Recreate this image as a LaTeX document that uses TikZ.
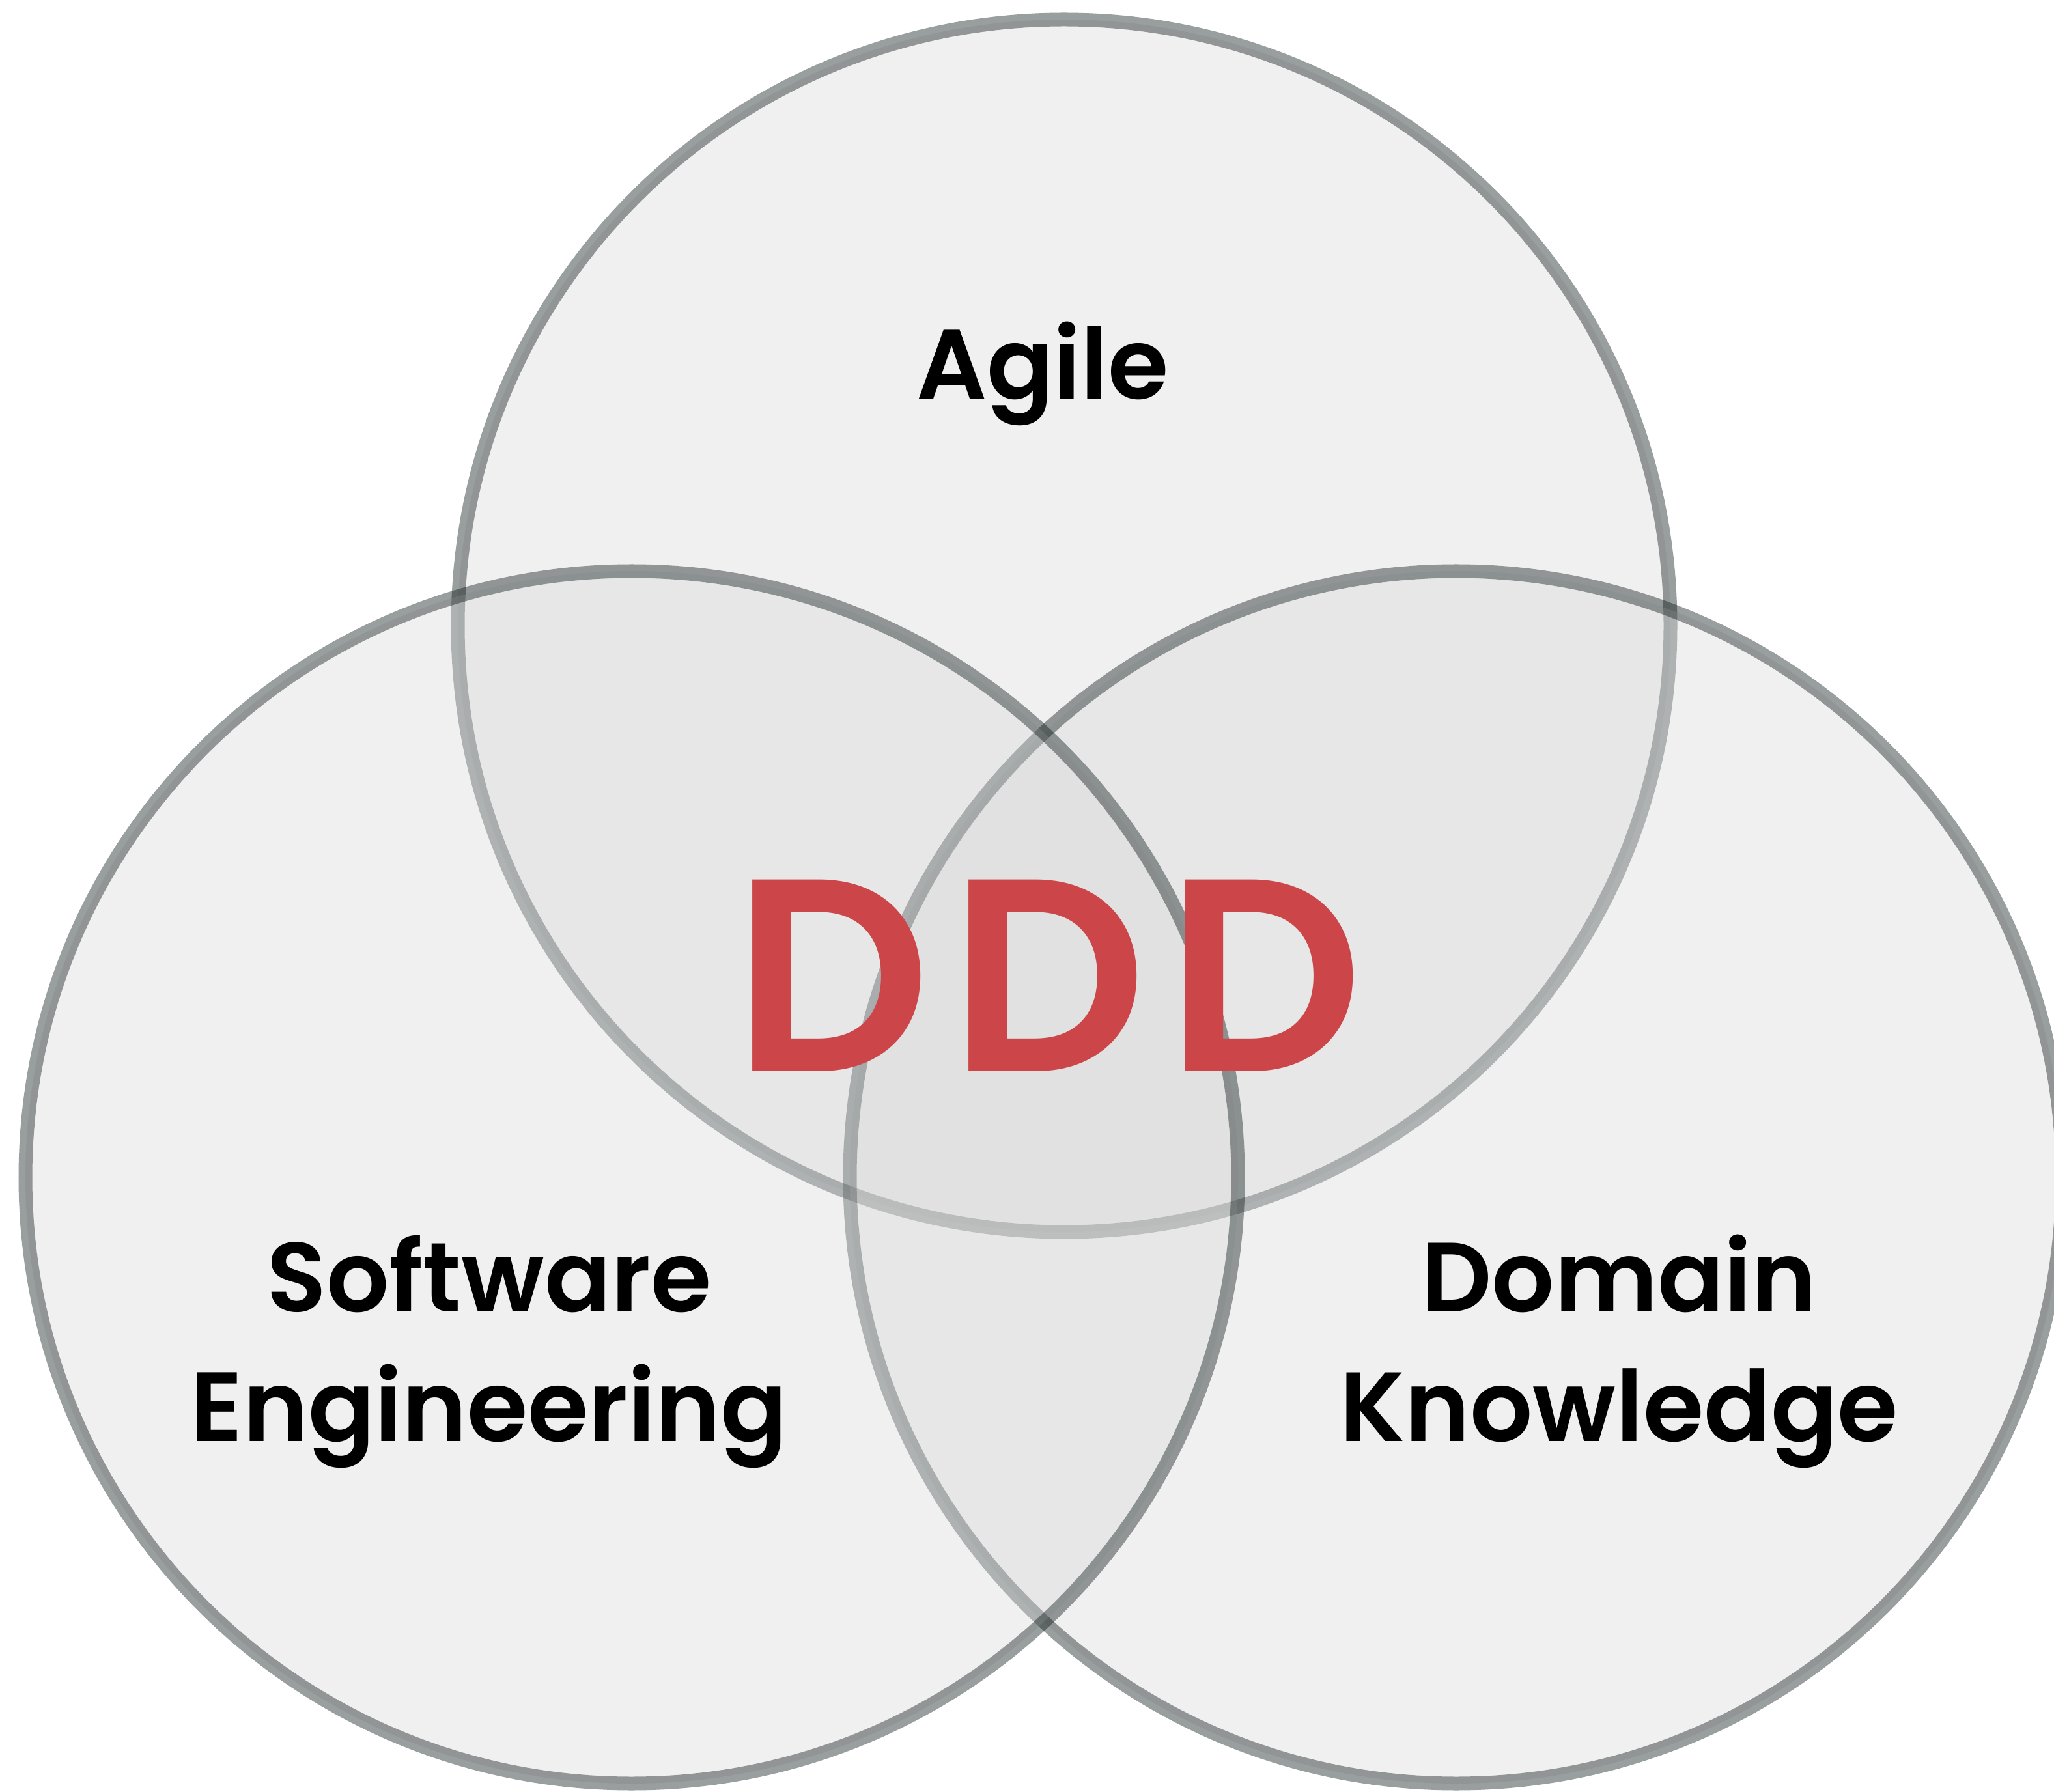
\documentclass[tikz,border=0pt]{standalone}
\usepackage{fontspec}
\setmainfont{Poppins}[BoldFont={* SemiBold}]
\usepackage{tikz}
\usetikzlibrary{positioning}
\definecolor{setfill}{RGB}{216,216,216}
\definecolor{setline}{RGB}{12,22,22}
\definecolor{dddred}{RGB}{204,69,73}

\begin{document}
\begin{tikzpicture}[
    every node/.style={font=\bfseries},
    set/.style={circle, minimum size=18.62cm, inner sep=0pt, fill=setfill, fill opacity=0.36,
                draw=setline, draw opacity=0.415, line width=0.21cm},
    lbl/.style={font=\fontsize{43}{56.4}\selectfont\bfseries, align=center, anchor=base,
                inner sep=0pt, text=black},
    ddd/.style={font=\fontsize{120}{130}\selectfont\bfseries\addfontfeatures{LetterSpace=7},
                anchor=base, inner sep=0pt, text=dddred},
]
    % Page size and margins of the reference.
    \useasboundingbox (0, 0) rectangle (31.54, -27.52);
    \clip (0, 0) rectangle (31.54, -27.52);
    \fill[white] (0, 0) rectangle (31.54, -27.52);

    % The three sets; the top one first, so the two lower ones lie over it.
    \node[set] (agileset) at (16.34, -9.61) {};
    \node[set] (domainset) at (22.36, -18.08) {};
    \node[set] (softset) at (9.70, -18.08) {};

    % Set names (base is the last line).
    \node[lbl] (agile) at (16.01, -6.13) {Agile};
    \node[lbl] (soft) at (7.51, -22.13) {Software\\Engineering};
    \node[lbl] (domain) at (24.86, -22.13) {Domain\\Knowledge};

    % The common part.
    \node[ddd] (ddd) at (16.10, -16.45) {DDD};
\end{tikzpicture}
\end{document}
